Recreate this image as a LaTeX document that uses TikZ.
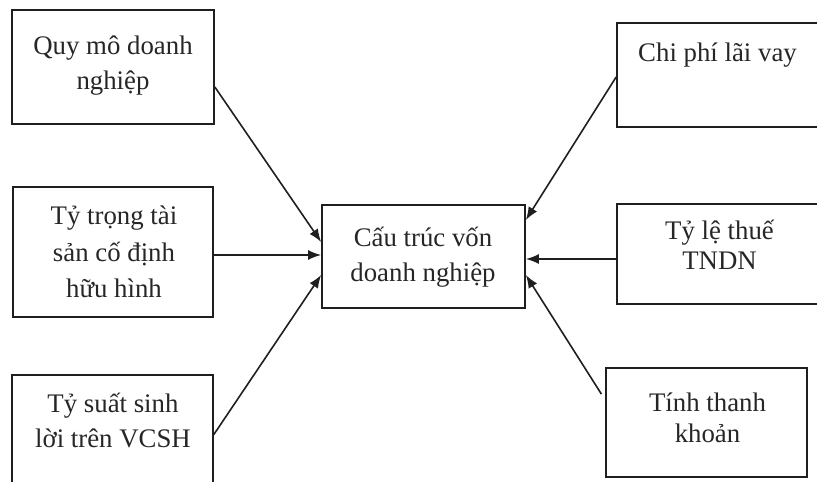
\documentclass[tikz,border=0pt]{standalone}
\usepackage{fontspec}
\setmainfont{Liberation Serif}
\usetikzlibrary{arrows.meta}
\newcommand{\mlines}[2]{{\fontsize{26.8}{#1}\selectfont\begin{tabular}[t]{@{}c@{}}#2\end{tabular}}}
\begin{document}
\begin{tikzpicture}[x=1pt,y=1pt,
  box/.style={draw=black!88, line width=1.7pt, rectangle, inner sep=0pt},
  lbl/.style={anchor=base, inner sep=0pt, text=black!85},
  arr/.style={line width=1.6pt, draw=black!88, -{Latex[length=13pt,width=10pt]}}]
\clip (0,0) rectangle (817,482);
% boxes
\node[box, minimum width=202pt, minimum height=114pt] (b1) at (113,415) {};
\node[box, minimum width=200pt, minimum height=130pt] (b2) at (113,230) {};
\node[box, minimum width=201pt, minimum height=110pt] (b3) at (112.5,52) {};
\node[box, minimum width=203pt, minimum height=103pt] (C) at (423.5,225.5) {};
\node[box, minimum width=202pt, minimum height=104pt] (b4) at (718,407) {};
\node[box, minimum width=202pt, minimum height=100pt] (b5) at (718,228) {};
\node[box, minimum width=201pt, minimum height=109pt] (b6) at (706.5,59.5) {};
% texts
\node[lbl] (t1) at (113,427) {\mlines{35}{Quy mô doanh\\nghiệp}};
\node[lbl] (t2) at (114,257) {\mlines{36.5}{Tỷ trọng tài\\sản cố định\\hữu hình}};
\node[lbl] (t3) at (113,69) {\mlines{35}{Tỷ suất sinh\\lời trên VCSH}};
\node[lbl] (tc) at (423,235) {\mlines{35}{Cấu trúc vốn\\doanh nghiệp}};
\node[lbl] (t4) at (717.5,420) {\mlines{35}{Chi phí lãi vay}};
\node[lbl] (t5) at (719.5,242) {\mlines{30}{Tỷ lệ thuế\\TNDN}};
\node[lbl] (t6) at (707.5,70) {\mlines{31}{Tính thanh\\khoản}};
% connectors
\coordinate (s2) at ([yshift=-3pt]b2.east);
\coordinate (s5) at ([yshift=-5pt]b5.west);
\draw[arr] ([yshift=-20pt]b1.east) -- ([yshift=14.5pt]C.west);
\draw[arr] (s2) -- (C.west |- s2);
\draw[arr] ([yshift=-4.5pt]b3.east) -- ([yshift=-18.5pt]C.west);
\draw[arr] ([yshift=-2pt]b4.west) -- ([yshift=36.5pt]C.east);
\draw[arr] (s5) -- (C.east |- s5);
\draw[arr, shorten <=7pt] ([yshift=22.5pt]b6.west) -- ([yshift=-18.5pt]C.east);
\end{tikzpicture}
\end{document}
